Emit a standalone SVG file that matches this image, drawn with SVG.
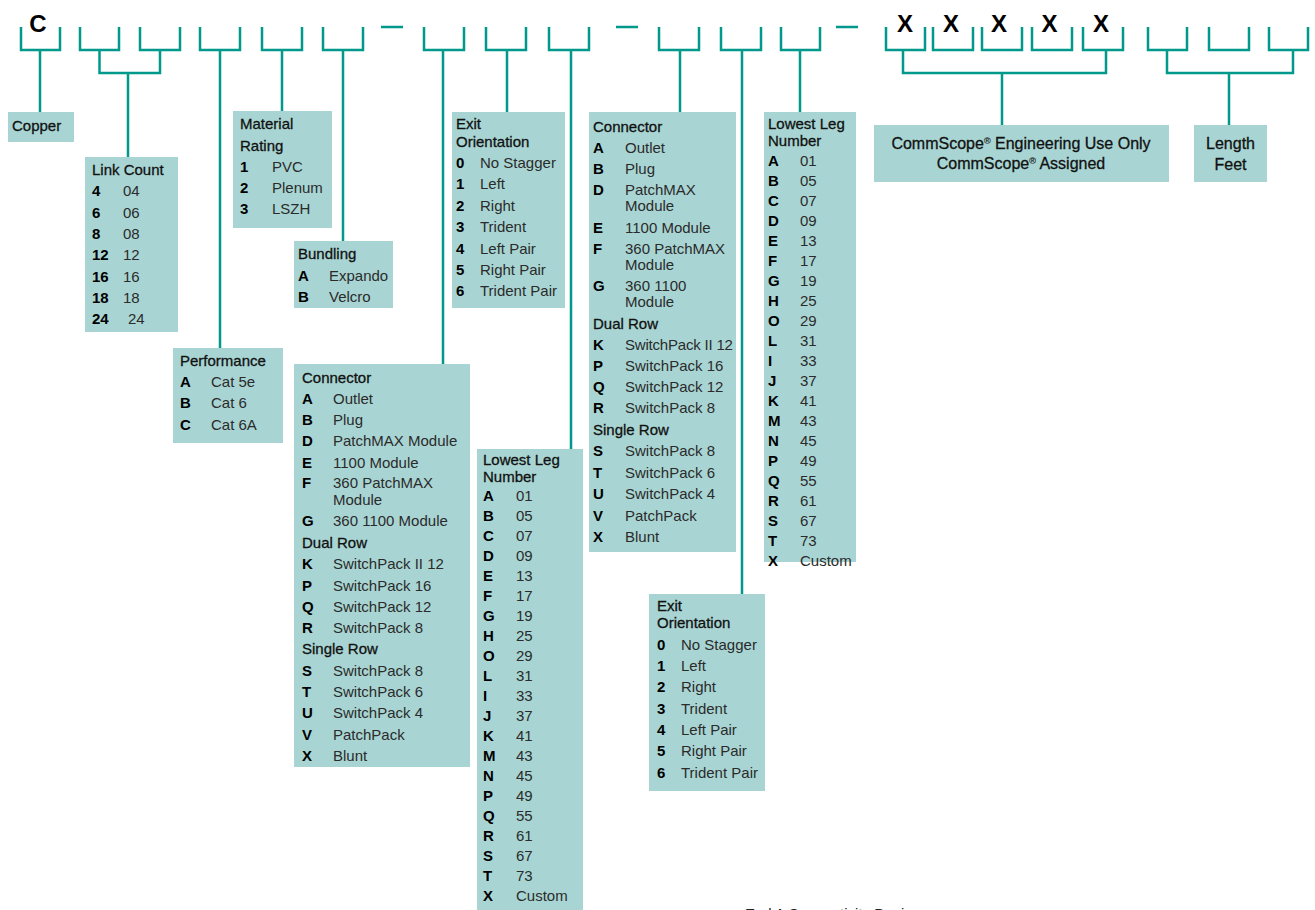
<svg xmlns="http://www.w3.org/2000/svg" width="1315" height="910" viewBox="0 0 1315 910">
<style>
.ln{stroke:#00998c;stroke-width:2.5;fill:none}
.bx{fill:#a8d5d3}
text{font-family:"Liberation Sans",Arial,Helvetica,sans-serif;font-size:15px}
.h{fill:#111;stroke:#111;stroke-width:0.3}
.k{fill:#000;font-weight:bold}
.v{fill:#2b2b2b}
.big{font-size:24px;font-weight:bold;fill:#000;text-anchor:middle}
.m{text-anchor:middle;font-size:16px}
</style>
<rect width="1315" height="910" fill="#fff"/>
<g id="connectors">
<path class="ln" d="M21 27V50H60V27M80 27V50H119V27M140 27V50H180V27M200 27V50H240V27M262 27V50H302V27M323 27V50H363V27M424 27V50H464V27M486 27V50H526V27M549 27V50H589V27M659 27V50H699V27M721 27V50H761V27M781 27V50H820V27M886 27V50H925V27M933 27V50H973V27M982 27V50H1022V27M1032 27V50H1072V27M1083 27V50H1123V27M1148 27V50H1187V27M1209 27V50H1249V27M1269 27V50H1308V27"/>
<path class="ln" d="M381 27H403M616 27H638M836 27H858" stroke-width="2"/>
<path class="ln" d="M40 50V112M99.5 50V73H160V50M128 73V157M220 50V348M282 50V111M343 50V241M443 50V364M507 50V112M571 50V449M680 50V112M742 50V594M800 50V112M903 50V73H1106V50M1002 73V125M1167 50V73H1293V50M1229 73V125"/>
</g>
<g id="code">
<text class="big" x="38" y="32">C</text>
<text class="big" x="905" y="32">X</text>
<text class="big" x="951" y="32">X</text>
<text class="big" x="999" y="32">X</text>
<text class="big" x="1049.5" y="32">X</text>
<text class="big" x="1101" y="32">X</text>
</g>
<g id="copper">
<rect class="bx" x="8" y="112" width="66" height="30"/>
<text class="h" x="12" y="131">Copper</text>
</g>
<g id="link-count">
<rect class="bx" x="85" y="157" width="93" height="175"/>
<text class="h" x="92" y="174.5">Link Count</text>
<text class="k" x="92" y="195.5">4</text><text class="v" x="123" y="195.5">04</text>
<text class="k" x="92" y="217.5">6</text><text class="v" x="123" y="217.5">06</text>
<text class="k" x="92" y="238.5">8</text><text class="v" x="123" y="238.5">08</text>
<text class="k" x="92" y="259.5">12</text><text class="v" x="123" y="259.5">12</text>
<text class="k" x="92" y="281.5">16</text><text class="v" x="123" y="281.5">16</text>
<text class="k" x="92" y="302.5">18</text><text class="v" x="123" y="302.5">18</text>
<text class="k" x="92" y="323.5">24</text><text class="v" x="128" y="323.5">24</text>
</g>
<g id="material-rating">
<rect class="bx" x="233" y="111" width="99" height="117"/>
<text class="h" x="240" y="128.5">Material</text>
<text class="h" x="240" y="150.5">Rating</text>
<text class="k" x="240" y="171.5">1</text><text class="v" x="272" y="171.5">PVC</text>
<text class="k" x="240" y="192.5">2</text><text class="v" x="272" y="192.5">Plenum</text>
<text class="k" x="240" y="213.5">3</text><text class="v" x="272" y="213.5">LSZH</text>
</g>
<g id="bundling">
<rect class="bx" x="294" y="241" width="99" height="67"/>
<text class="h" x="298" y="258.5">Bundling</text>
<text class="k" x="298" y="280.5">A</text><text class="v" x="329" y="280.5">Expando</text>
<text class="k" x="298" y="301.5">B</text><text class="v" x="329" y="301.5">Velcro</text>
</g>
<g id="performance">
<rect class="bx" x="173" y="348" width="110" height="95"/>
<text class="h" x="180" y="365.5">Performance</text>
<text class="k" x="180" y="386.5">A</text><text class="v" x="211" y="386.5">Cat 5e</text>
<text class="k" x="180" y="407.5">B</text><text class="v" x="211" y="407.5">Cat 6</text>
<text class="k" x="180" y="429.5">C</text><text class="v" x="211" y="429.5">Cat 6A</text>
</g>
<g id="connector-1">
<rect class="bx" x="294" y="364" width="176" height="403"/>
<text class="h" x="302" y="382.5">Connector</text>
<text class="k" x="302" y="403.5">A</text><text class="v" x="333" y="403.5">Outlet</text>
<text class="k" x="302" y="424.5">B</text><text class="v" x="333" y="424.5">Plug</text>
<text class="k" x="302" y="445.5">D</text><text class="v" x="333" y="445.5">PatchMAX Module</text>
<text class="k" x="302" y="467.5">E</text><text class="v" x="333" y="467.5">1100 Module</text>
<text class="k" x="302" y="487.5">F</text><text class="v" x="333" y="487.5">360 PatchMAX</text>
<text class="v" x="333" y="504.5">Module</text>
<text class="k" x="302" y="525.5">G</text><text class="v" x="333" y="525.5">360 1100 Module</text>
<text class="h" x="302" y="547.5">Dual Row</text>
<text class="k" x="302" y="568.5">K</text><text class="v" x="333" y="568.5">SwitchPack II 12</text>
<text class="k" x="302" y="590.5">P</text><text class="v" x="333" y="590.5">SwitchPack 16</text>
<text class="k" x="302" y="611.5">Q</text><text class="v" x="333" y="611.5">SwitchPack 12</text>
<text class="k" x="302" y="632.5">R</text><text class="v" x="333" y="632.5">SwitchPack 8</text>
<text class="h" x="302" y="653.5">Single Row</text>
<text class="k" x="302" y="675.5">S</text><text class="v" x="333" y="675.5">SwitchPack 8</text>
<text class="k" x="302" y="696.5">T</text><text class="v" x="333" y="696.5">SwitchPack 6</text>
<text class="k" x="302" y="717.5">U</text><text class="v" x="333" y="717.5">SwitchPack 4</text>
<text class="k" x="302" y="739.5">V</text><text class="v" x="333" y="739.5">PatchPack</text>
<text class="k" x="302" y="760.5">X</text><text class="v" x="333" y="760.5">Blunt</text>
</g>
<g id="exit-orientation-1">
<rect class="bx" x="452" y="112" width="113" height="196"/>
<text class="h" x="456" y="128.5">Exit</text>
<text class="h" x="456" y="146.5">Orientation</text>
<text class="k" x="456" y="167.5">0</text><text class="v" x="480" y="167.5">No Stagger</text>
<text class="k" x="456" y="188.5">1</text><text class="v" x="480" y="188.5">Left</text>
<text class="k" x="456" y="210.5">2</text><text class="v" x="480" y="210.5">Right</text>
<text class="k" x="456" y="231.5">3</text><text class="v" x="480" y="231.5">Trident</text>
<text class="k" x="456" y="253.5">4</text><text class="v" x="480" y="253.5">Left Pair</text>
<text class="k" x="456" y="274.5">5</text><text class="v" x="480" y="274.5">Right Pair</text>
<text class="k" x="456" y="295.5">6</text><text class="v" x="480" y="295.5">Trident Pair</text>
</g>
<g id="lowest-leg-1">
<rect class="bx" x="477" y="449" width="106" height="461"/>
<text class="h" x="483" y="464.5">Lowest Leg</text>
<text class="h" x="483" y="481.5">Number</text>
<text class="k" x="483" y="500.5">A</text><text class="v" x="516" y="500.5">01</text>
<text class="k" x="483" y="520.5">B</text><text class="v" x="516" y="520.5">05</text>
<text class="k" x="483" y="540.5">C</text><text class="v" x="516" y="540.5">07</text>
<text class="k" x="483" y="560.5">D</text><text class="v" x="516" y="560.5">09</text>
<text class="k" x="483" y="580.5">E</text><text class="v" x="516" y="580.5">13</text>
<text class="k" x="483" y="601">F</text><text class="v" x="516" y="601">17</text>
<text class="k" x="483" y="621">G</text><text class="v" x="516" y="621">19</text>
<text class="k" x="483" y="641">H</text><text class="v" x="516" y="641">25</text>
<text class="k" x="483" y="661">O</text><text class="v" x="516" y="661">29</text>
<text class="k" x="483" y="681">L</text><text class="v" x="516" y="681">31</text>
<text class="k" x="483" y="701">I</text><text class="v" x="516" y="701">33</text>
<text class="k" x="483" y="721">J</text><text class="v" x="516" y="721">37</text>
<text class="k" x="483" y="741">K</text><text class="v" x="516" y="741">41</text>
<text class="k" x="483" y="761">M</text><text class="v" x="516" y="761">43</text>
<text class="k" x="483" y="781">N</text><text class="v" x="516" y="781">45</text>
<text class="k" x="483" y="801">P</text><text class="v" x="516" y="801">49</text>
<text class="k" x="483" y="821">Q</text><text class="v" x="516" y="821">55</text>
<text class="k" x="483" y="841">R</text><text class="v" x="516" y="841">61</text>
<text class="k" x="483" y="861">S</text><text class="v" x="516" y="861">67</text>
<text class="k" x="483" y="881">T</text><text class="v" x="516" y="881">73</text>
<text class="k" x="483" y="901">X</text><text class="v" x="516" y="901">Custom</text>
</g>
<g id="connector-2">
<rect class="bx" x="589" y="112" width="147" height="440"/>
<text class="h" x="593" y="131.5">Connector</text>
<text class="k" x="593" y="152.5">A</text><text class="v" x="625" y="152.5">Outlet</text>
<text class="k" x="593" y="173.5">B</text><text class="v" x="625" y="173.5">Plug</text>
<text class="k" x="593" y="194.5">D</text><text class="v" x="625" y="194.5">PatchMAX</text>
<text class="v" x="625" y="210.5">Module</text>
<text class="k" x="593" y="232.5">E</text><text class="v" x="625" y="232.5">1100 Module</text>
<text class="k" x="593" y="253.5">F</text><text class="v" x="625" y="253.5">360 PatchMAX</text>
<text class="v" x="625" y="269.5">Module</text>
<text class="k" x="593" y="290.5">G</text><text class="v" x="625" y="290.5">360 1100</text>
<text class="v" x="625" y="306.5">Module</text>
<text class="h" x="593" y="328.5">Dual Row</text>
<text class="k" x="593" y="349.5">K</text><text class="v" x="625" y="349.5" letter-spacing="-0.2">SwitchPack II 12</text>
<text class="k" x="593" y="370.5">P</text><text class="v" x="625" y="370.5">SwitchPack 16</text>
<text class="k" x="593" y="391.5">Q</text><text class="v" x="625" y="391.5">SwitchPack 12</text>
<text class="k" x="593" y="412.5">R</text><text class="v" x="625" y="412.5">SwitchPack 8</text>
<text class="h" x="593" y="434.5">Single Row</text>
<text class="k" x="593" y="455.5">S</text><text class="v" x="625" y="455.5">SwitchPack 8</text>
<text class="k" x="593" y="477.5">T</text><text class="v" x="625" y="477.5">SwitchPack 6</text>
<text class="k" x="593" y="498.5">U</text><text class="v" x="625" y="498.5">SwitchPack 4</text>
<text class="k" x="593" y="520.5">V</text><text class="v" x="625" y="520.5">PatchPack</text>
<text class="k" x="593" y="541.5">X</text><text class="v" x="625" y="541.5">Blunt</text>
</g>
<g id="exit-orientation-2">
<rect class="bx" x="649" y="594" width="116" height="197"/>
<text class="h" x="657" y="610.5">Exit</text>
<text class="h" x="657" y="627.5">Orientation</text>
<text class="k" x="657" y="649.5">0</text><text class="v" x="681" y="649.5">No Stagger</text>
<text class="k" x="657" y="670.5">1</text><text class="v" x="681" y="670.5">Left</text>
<text class="k" x="657" y="691.5">2</text><text class="v" x="681" y="691.5">Right</text>
<text class="k" x="657" y="713.5">3</text><text class="v" x="681" y="713.5">Trident</text>
<text class="k" x="657" y="734.5">4</text><text class="v" x="681" y="734.5">Left Pair</text>
<text class="k" x="657" y="755.5">5</text><text class="v" x="681" y="755.5">Right Pair</text>
<text class="k" x="657" y="777.5">6</text><text class="v" x="681" y="777.5">Trident Pair</text>
</g>
<g id="lowest-leg-2">
<rect class="bx" x="764" y="112" width="92" height="450"/>
<text class="h" x="768" y="128.5">Lowest Leg</text>
<text class="h" x="768" y="145.5">Number</text>
<text class="k" x="768" y="165.5">A</text><text class="v" x="800" y="165.5">01</text>
<text class="k" x="768" y="185.5">B</text><text class="v" x="800" y="185.5">05</text>
<text class="k" x="768" y="205.5">C</text><text class="v" x="800" y="205.5">07</text>
<text class="k" x="768" y="225.5">D</text><text class="v" x="800" y="225.5">09</text>
<text class="k" x="768" y="245.5">E</text><text class="v" x="800" y="245.5">13</text>
<text class="k" x="768" y="265.5">F</text><text class="v" x="800" y="265.5">17</text>
<text class="k" x="768" y="285.5">G</text><text class="v" x="800" y="285.5">19</text>
<text class="k" x="768" y="305.5">H</text><text class="v" x="800" y="305.5">25</text>
<text class="k" x="768" y="325.5">O</text><text class="v" x="800" y="325.5">29</text>
<text class="k" x="768" y="345.5">L</text><text class="v" x="800" y="345.5">31</text>
<text class="k" x="768" y="365.5">I</text><text class="v" x="800" y="365.5">33</text>
<text class="k" x="768" y="385.5">J</text><text class="v" x="800" y="385.5">37</text>
<text class="k" x="768" y="405.5">K</text><text class="v" x="800" y="405.5">41</text>
<text class="k" x="768" y="425.5">M</text><text class="v" x="800" y="425.5">43</text>
<text class="k" x="768" y="445.5">N</text><text class="v" x="800" y="445.5">45</text>
<text class="k" x="768" y="465.5">P</text><text class="v" x="800" y="465.5">49</text>
<text class="k" x="768" y="485.5">Q</text><text class="v" x="800" y="485.5">55</text>
<text class="k" x="768" y="505.5">R</text><text class="v" x="800" y="505.5">61</text>
<text class="k" x="768" y="525.5">S</text><text class="v" x="800" y="525.5">67</text>
<text class="k" x="768" y="545.5">T</text><text class="v" x="800" y="545.5">73</text>
<text class="k" x="768" y="565.5">X</text><text class="v" x="800" y="565.5">Custom</text>
</g>
<g id="commscope">
<rect class="bx" x="874" y="125" width="295" height="57"/>
<text class="h m" x="1021" y="149">CommScope<tspan font-size="9" baseline-shift="super" stroke-width="0.15">®</tspan> Engineering Use Only</text>
<text class="h m" x="1021" y="169">CommScope<tspan font-size="9" baseline-shift="super" stroke-width="0.15">®</tspan> Assigned</text>
</g>
<g id="length">
<rect class="bx" x="1194" y="125" width="73" height="57"/>
<text class="h m" x="1230.5" y="149">Length</text>
<text class="h m" x="1230.5" y="170">Feet</text>
</g>
<g id="footer">
<text x="745" y="919" font-size="16" fill="#222">End A Connectivity Design</text>
</g>
</svg>
